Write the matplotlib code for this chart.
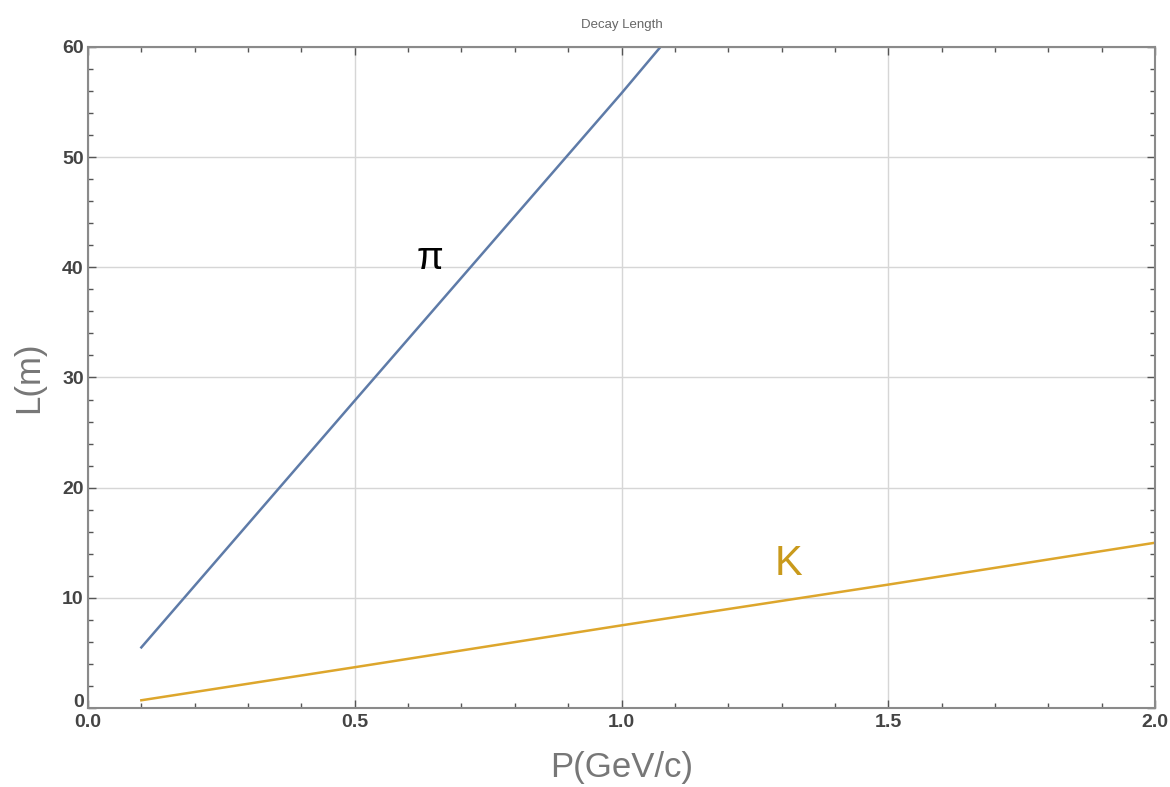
import matplotlib.pyplot as plt
from matplotlib.ticker import MultipleLocator

plt.rcParams['font.family'] = ['Liberation Sans', 'DejaVu Sans']

# values
pi_p = [0.1, 0.5, 1.0, 1.073]
pi_L = [5.5, 27.9, 55.8, 60.0]
k_p = [0.1, 0.5, 1.0, 1.5, 2.0]
k_L = [0.7, 3.7, 7.5, 11.2, 15.0]

pi_color = "#5E7BA8"
k_color = "#DDA62C"
tick_col = "#444444"

fig = plt.figure(figsize=(11.7, 7.87), dpi=100)
ax = fig.add_axes([0.0752, 0.1004, 0.912, 0.8399])

ax.plot(pi_p, pi_L, color=pi_color, lw=1.8)
ax.plot(k_p, k_L, color=k_color, lw=1.8)

ax.set_xlim(0, 2)
ax.set_ylim(0, 60)
ax.xaxis.set_major_locator(MultipleLocator(0.5))
ax.xaxis.set_minor_locator(MultipleLocator(0.1))
ax.yaxis.set_major_locator(MultipleLocator(10))
ax.yaxis.set_minor_locator(MultipleLocator(2))
ax.xaxis.set_major_formatter(plt.FuncFormatter(lambda v, _: f"{v:.1f}"))
# the y "0" is drawn by hand below, a bit higher, so it clears the x "0.0"
ax.yaxis.set_major_formatter(plt.FuncFormatter(lambda v, _: "" if v == 0 else f"{v:.0f}"))
ax.grid(True, which="major", color="#d6d6d6", lw=1)

for s in ax.spines.values():
    s.set_color("#8a8a8a")
    s.set_linewidth(1.5)
ax.tick_params(which="both", direction="in", top=True, right=True, color="#555555",
               labelcolor=tick_col, labelsize=14)
ax.tick_params(which="major", length=6, width=1)
ax.tick_params(which="minor", length=3.5, width=1)
ax.tick_params(axis="x", pad=4)
ax.tick_params(axis="y", pad=3)
for lab in ax.get_xticklabels() + ax.get_yticklabels():
    lab.set_fontweight("bold")
ax.annotate("0", xy=(0, 0), xytext=(-3, 4), textcoords="offset points",
            ha="right", va="center", fontsize=14, fontweight="bold", color=tick_col,
            annotation_clip=False)

ax.set_xlabel("P(GeV/c)", fontsize=25, color="#777777", labelpad=15)
ax.set_ylabel("L(m)", fontsize=25, color="#777777", labelpad=12)
ax.set_title("Decay Length", fontsize=9.5, color="#666666", pad=14)

ax.text(0.641, 40.8, "π", fontsize=28, color="black", ha="center", va="center")
ax.text(1.312, 13.1, "K", fontsize=30, color="#C99A1C", ha="center", va="center")

fig.savefig("out.png")
